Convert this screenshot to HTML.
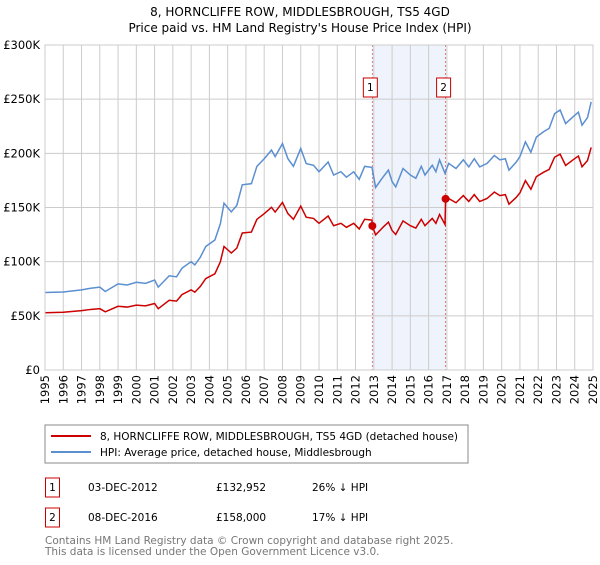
<!DOCTYPE html>
<html><head><meta charset="utf-8"><style>
body{margin:0;background:#fff;font-family:"Liberation Sans","DejaVu Sans",sans-serif;}
svg text{font-family:"DejaVu Sans","Liberation Sans",sans-serif;}
</style></head><body>
<svg id="c" width="600" height="560" viewBox="0 0 600 560">
<text x="300" y="16" text-anchor="middle" font-size="12">8, HORNCLIFFE ROW, MIDDLESBROUGH, TS5 4GD</text>
<text x="300" y="32" text-anchor="middle" font-size="12">Price paid vs. HM Land Registry's House Price Index (HPI)</text>
<g id="grid"></g><g id="marks"></g><g id="axes"></g>
<rect x="45" y="425" width="423" height="38" fill="#fff" stroke="#888"/>
<line x1="51" y1="436" x2="91" y2="436" stroke="#cc0000" stroke-width="2"/>
<text x="100" y="440" font-size="10.5">8, HORNCLIFFE ROW, MIDDLESBROUGH, TS5 4GD (detached house)</text>
<line x1="51" y1="452" x2="91" y2="452" stroke="#5b8fd0" stroke-width="2"/>
<text x="100" y="456" font-size="10.5">HPI: Average price, detached house, Middlesbrough</text>
<g font-size="10.5">
<rect x="45.5" y="478" width="14" height="19" fill="none" stroke="#cc0000"/>
<text x="52.5" y="491" text-anchor="middle">1</text>
<text x="88" y="491">03-DEC-2012</text>
<text x="216" y="491">£132,952</text>
<text x="312" y="491">26% ↓ HPI</text>
<rect x="45.5" y="508" width="14" height="19" fill="none" stroke="#cc0000"/>
<text x="52.5" y="521" text-anchor="middle">2</text>
<text x="88" y="521">08-DEC-2016</text>
<text x="216" y="521">£158,000</text>
<text x="312" y="521">17% ↓ HPI</text>
</g>
<text x="45" y="544" font-size="10.5" fill="#777">Contains HM Land Registry data © Crown copyright and database right 2025.</text>
<text x="45" y="555" font-size="10.5" fill="#777">This data is licensed under the Open Government Licence v3.0.</text>
</svg>
<script>
const yTicks=[0,50,100,150,200,250,300];
const yTickLabels=["£0","£50K","£100K","£150K","£200K","£250K","£300K"];
const years=[1995,1996,1997,1998,1999,2000,2001,2002,2003,2004,2005,2006,2007,2008,2009,2010,2011,2012,2013,2014,2015,2016,2017,2018,2019,2020,2021,2022,2023,2024,2025];
const hpiT=[1995,1996,1997,1997.5,1998,1998.3,1999,1999.5,2000,2000.5,2001,2001.2,2001.8,2002.2,2002.5,2003,2003.2,2003.5,2003.8,2004.3,2004.6,2004.8,2005.2,2005.5,2005.8,2006.3,2006.6,2007,2007.4,2007.6,2008,2008.3,2008.6,2009,2009.3,2009.7,2010,2010.5,2010.8,2011.2,2011.5,2011.9,2012.2,2012.5,2012.9,2013.1,2013.5,2013.8,2014,2014.2,2014.6,2015,2015.3,2015.6,2015.8,2016.2,2016.4,2016.6,2016.9,2017.1,2017.5,2017.9,2018.2,2018.5,2018.8,2019.2,2019.6,2019.9,2020.2,2020.4,2020.8,2021,2021.3,2021.6,2021.9,2022.3,2022.6,2022.9,2023.2,2023.5,2023.9,2024.2,2024.4,2024.7,2024.9];
const hpiV=[71.5,72,74,75.5,76.5,72.5,79.5,78.5,81,80,83,76.5,87,86,94,100,97,104,114,120,135,154,146,152,171,172,188,195,203,197,209,195,188,204.5,190.5,189,183,192,180,183,178,183,176,188,187,168.5,178,184.5,174,169,186,180,177,188,180,189,183,194,181.5,190.7,186,194,187.5,195,187.5,190.7,198,194,195,184.5,192,197,210.6,201,215,220,223,236.7,240,227.5,233.6,238,226,233,247.5];
const priceT=[1995,1996,1997,1997.5,1998,1998.3,1999,1999.5,2000,2000.5,2001,2001.2,2001.8,2002.2,2002.5,2003,2003.2,2003.5,2003.8,2004.3,2004.6,2004.8,2005.2,2005.5,2005.8,2006.3,2006.6,2007,2007.4,2007.6,2008,2008.3,2008.6,2009,2009.3,2009.7,2010,2010.5,2010.8,2011.2,2011.5,2011.9,2012.2,2012.5,2012.9,2012.92,2013.1,2013.5,2013.8,2014,2014.2,2014.6,2015,2015.3,2015.6,2015.8,2016.2,2016.4,2016.6,2016.9,2016.93,2017.1,2017.5,2017.9,2018.2,2018.5,2018.8,2019.2,2019.6,2019.9,2020.2,2020.4,2020.8,2021,2021.3,2021.6,2021.9,2022.3,2022.6,2022.9,2023.2,2023.5,2023.9,2024.2,2024.4,2024.7,2024.9];
const priceV=[52.9,53.3,54.8,55.9,56.6,53.7,58.8,58.1,59.9,59.2,61.4,56.6,64.4,63.6,69.6,74,71.8,77,84.4,88.8,99.9,114,108,112.5,126.5,127.3,139.1,144.3,150.2,145.8,154.7,144.3,139.1,151.3,141,139.9,135.4,142.1,133.2,135.4,131.7,135.4,130.2,139.1,138.4,133,124.7,131.7,136.5,128.8,125.1,137.6,133.2,131,139.1,133.2,139.9,135.4,143.6,134.3,158,158.3,154.4,161,155.6,161.9,155.6,158.3,164.3,161,161.9,153.1,159.4,163.5,174.8,166.8,178.5,182.6,185.1,196.5,199.2,188.8,193.9,197.5,187.6,193.4,205.4];
const saleT=[2012.92,2016.93];
const saleV=[132.952,158];
const saleLabels=["1","2"];
const NS="http://www.w3.org/2000/svg";
const L=45,R=593,T=45,B=370;
const X=t=>L+(t-1995)/(2025-1995)*(R-L);
const Y=v=>B-v/300*(B-T);
function mk(tag,at,parent){const e=document.createElementNS(NS,tag);for(const k in at)e.setAttribute(k,at[k]);parent.appendChild(e);return e;}
const grid=document.getElementById('grid'),marks=document.getElementById('marks'),axes=document.getElementById('axes');
const shade=mk('rect',{x:X(saleT[0]),y:T,width:X(saleT[1])-X(saleT[0]),height:B-T,fill:'#eef3fc'},grid);


yTicks.forEach((v,i)=>{
 const g=mk('line',{x1:L,x2:R,y1:Y(v),y2:Y(v),stroke:'#ccc'},grid);
 
 
 const t=mk('text',{x:L-5,y:Y(v)+4,'text-anchor':'end','font-size':'11.5'},axes);
 t.textContent=yTickLabels[i];
 
 
});
years.forEach(y=>{
 const g=mk('line',{x1:X(y),x2:X(y),y1:T,y2:B,stroke:'#ccc'},grid);
 
 
 const t=mk('text',{x:0,y:0,'text-anchor':'end','font-size':'11.5',transform:`translate(${X(y)+4},${B+5}) rotate(-90)`},axes);
 t.textContent=y;
 
 
});
saleT.forEach((t,i)=>{
 const l=mk('line',{x1:X(t),x2:X(t),y1:T,y2:B,stroke:'#e06060','stroke-dasharray':'2,2','stroke-width':'0.8'},grid);
 
 
 const b=mk('rect',{x:X(t)-7-2,y:78,width:14,height:19,fill:'#fff',stroke:'#cc0000'},axes);
 
 
 const tx=mk('text',{x:X(t)-2,y:91,'text-anchor':'middle','font-size':'10.5'},axes);
 tx.textContent=saleLabels[i];
 
 
});
const hp=mk('polyline',{points:hpiT.map((t,i)=>X(t)+','+Y(hpiV[i])).join(' '),fill:'none',stroke:'#5b8fd0','stroke-width':'1.5'},marks);


const pp=mk('polyline',{points:priceT.map((t,i)=>X(t)+','+Y(priceV[i])).join(' '),fill:'none',stroke:'#cc0000','stroke-width':'1.5'},marks);


saleT.forEach((t,i)=>{
 const d=mk('circle',{cx:X(t),cy:Y(saleV[i]),r:4,fill:'#cc0000'},marks);
 
 
});
const ax=mk('rect',{x:L,y:T,width:R-L,height:B-T,fill:'none',stroke:'#ccc'},axes);


</script>
</body></html>
